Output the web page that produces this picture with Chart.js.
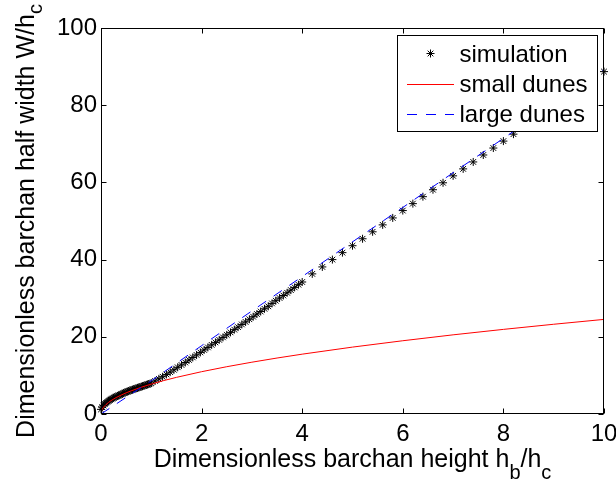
<!DOCTYPE html>
<html><head><meta charset="utf-8">
<script src="https://cdn.jsdelivr.net/npm/chart.js@4.4.1/dist/chart.umd.min.js"></script>
<style>html,body{margin:0;padding:0;background:#fff;overflow:hidden}#wrap{width:616px;height:488px;position:relative}</style>
</head><body><div id="wrap"><canvas id="c" width="616" height="488"></canvas></div>
<script>
const FONT = "'Liberation Sans', Arial, Helvetica, sans-serif";
const xTicks = [0, 2, 4, 6, 8, 10];
const yTicks = [0, 20, 40, 60, 80, 100];
const seriesLabels = ['simulation', 'small dunes', 'large dunes'];

const simH = [
  0, 0.025, 0.05, 0.075, 0.1, 0.125, 0.15, 0.175, 0.2, 0.225, 0.25, 0.275, 0.3, 0.325, 0.35, 0.375, 0.4, 0.425, 0.45, 0.475,
  0.5, 0.525, 0.55, 0.575, 0.6, 0.625, 0.65, 0.675, 0.7, 0.725, 0.75, 0.775, 0.8, 0.825, 0.85, 0.875, 0.9, 0.925, 0.95, 0.975, 1.0,
  1.075, 1.15, 1.225, 1.3, 1.375, 1.45, 1.525, 1.6, 1.675, 1.75, 1.825, 1.9, 1.975, 2.05, 2.125, 2.2, 2.275, 2.35, 2.425, 2.5,
  2.575, 2.65, 2.725, 2.8, 2.875, 2.95, 3.025, 3.1, 3.175, 3.25, 3.325, 3.4, 3.475, 3.55, 3.625, 3.7, 3.775, 3.85, 3.925, 4.0,
  4.2, 4.4, 4.6, 4.8, 5.0, 5.2, 5.4, 5.6, 5.8, 6.0, 6.2, 6.4, 6.6, 6.8, 7.0, 7.2, 7.4, 7.6, 7.8, 8.0,
  8.2, 8.4, 8.6, 8.8, 9.0, 9.2, 9.4, 9.6, 9.8, 10.0
];
const simW = [
  1.2, 1.8, 2.2, 2.6, 2.9, 3.15, 3.4, 3.6, 3.8, 4.0, 4.2, 4.35, 4.5, 4.65, 4.8, 4.95, 5.1, 5.25, 5.4, 5.55,
  5.7, 5.82, 5.94, 6.06, 6.18, 6.3, 6.42, 6.54, 6.65, 6.76, 6.87, 6.98, 7.09, 7.2, 7.31, 7.42, 7.53, 7.64, 7.76, 7.88, 8.0,
  8.55, 9.1, 9.65, 10.25, 10.85, 11.45, 12.1, 12.7, 13.35, 14.0, 14.65, 15.3, 15.95, 16.6, 17.25, 17.9, 18.55, 19.2, 19.85, 20.5,
  21.15, 21.85, 22.5, 23.2, 23.85, 24.55, 25.2, 25.9, 26.55, 27.25, 27.9, 28.65, 29.35, 30.05, 30.7, 31.4, 32.1, 32.8, 33.5, 34.2,
  36.3, 38.1, 40.0, 41.8, 43.6, 45.4, 47.2, 49.0, 50.8, 52.7, 54.5, 56.3, 58.1, 59.9, 61.7, 63.5, 65.3, 67.1, 68.9, 70.7,
  72.5, 74.3, 76.1, 77.9, 79.7, 81.5, 83.3, 85.1, 86.9, 88.7
];

const smallH = [0, 0.01, 0.025, 0.05, 0.1, 0.15, 0.2, 0.3, 0.4, 0.5, 0.6, 0.8, 1.0, 1.25, 1.5, 2, 2.5, 3, 3.5, 4, 5, 6, 7, 8, 9, 10];
const smallW = [0, 0.78, 1.23, 1.73, 2.45, 3.0, 3.47, 4.25, 4.9, 5.48, 6.0, 6.93, 7.75, 8.67, 9.49, 10.96, 12.25, 13.42, 14.5, 15.5, 17.33, 18.98, 20.51, 21.92, 23.25, 24.51];

const largeH = [0, 1, 2, 3, 4, 5, 6, 7, 8, 9, 10];
const largeW = [0, 8.6, 17.7, 26.7, 35.6, 44.6, 53.5, 62.5, 71.4, 80.4, 89.3];

const xTitleParts = [['Dimensionless barchan height h', false], ['b', true], ['/h', false], ['c', true]];
const yTitleParts = [['Dimensionless barchan half width W/h', false], ['c', true]];

const toPts = (xs, ys) => xs.map((x, i) => ({ x: x, y: ys[i] }));

function drawStar(ctx, x, y, r) {
  ctx.beginPath();
  ctx.moveTo(x - r, y); ctx.lineTo(x + r, y);
  ctx.moveTo(x, y - r); ctx.lineTo(x, y + r);
  const d = r * Math.SQRT1_2;
  ctx.moveTo(x - d, y - d); ctx.lineTo(x + d, y + d);
  ctx.moveTo(x - d, y + d); ctx.lineTo(x + d, y - d);
  ctx.stroke();
}

function drawParts(ctx, parts, x0, y0, mainSize, subSize, subDrop) {
  let x = x0;
  parts.forEach(([t, sub]) => {
    ctx.font = (sub ? subSize : mainSize) + 'px ' + FONT;
    ctx.fillText(t, x, y0 + (sub ? subDrop : 0));
    x += ctx.measureText(t).width;
  });
}
function partsWidth(ctx, parts, mainSize, subSize) {
  let w = 0;
  parts.forEach(([t, sub]) => {
    ctx.font = (sub ? subSize : mainSize) + 'px ' + FONT;
    w += ctx.measureText(t).width;
  });
  return w;
}

const framePlugin = {
  id: 'frame',
  afterDraw(chart) {
    const ctx = chart.ctx;
    const a = chart.chartArea;
    const xs = chart.scales.x, ys = chart.scales.y;
    const L = Math.round(a.left) + 0.5, R = Math.round(a.right) - 0.5;
    const T = Math.round(a.top) + 0.5, B = Math.round(a.bottom) - 0.5;
    ctx.save();
    ctx.strokeStyle = '#000';
    ctx.lineWidth = 1;
    ctx.strokeRect(L, T, R - L, B - T);
    const tl = 5;
    ctx.beginPath();
    xTicks.forEach(v => {
      const px = Math.round(xs.getPixelForValue(v)) + 0.5;
      ctx.moveTo(px, B); ctx.lineTo(px, B - tl);
      ctx.moveTo(px, T); ctx.lineTo(px, T + tl);
    });
    yTicks.forEach(v => {
      const py = Math.round(ys.getPixelForValue(v)) + 0.5;
      ctx.moveTo(L, py); ctx.lineTo(L + tl, py);
      ctx.moveTo(R, py); ctx.lineTo(R - tl, py);
    });
    ctx.stroke();

    // legend
    const ds = chart.data.datasets;
    const lw = 200, lh = 96;
    const lx = Math.round(a.right - 7 - lw) + 0.5, ly = Math.round(a.top + 7) + 0.5;
    ctx.fillStyle = '#fff';
    ctx.fillRect(lx, ly, lw, lh);
    ctx.strokeStyle = '#000';
    ctx.strokeRect(lx, ly, lw, lh);
    const rows = [ly + 19, ly + 49, ly + 79];
    ctx.font = '24px ' + FONT;
    ctx.textBaseline = 'middle';
    ctx.textAlign = 'left';
    ds.forEach((d, i) => {
      const cy = rows[i];
      ctx.save();
      ctx.strokeStyle = d.borderColor;
      ctx.lineWidth = 1;
      if (d.showLine === false) {
        drawStar(ctx, lx + 33, cy - 1, 4);
      } else {
        ctx.setLineDash(d.borderDash || []);
        ctx.beginPath();
        ctx.moveTo(lx + 9.5, cy); ctx.lineTo(lx + 56.5, cy);
        ctx.stroke();
      }
      ctx.restore();
      ctx.fillStyle = '#000';
      ctx.fillText(d.label, lx + 62, cy + 1);
    });

    // axis titles
    ctx.fillStyle = '#000';
    ctx.textBaseline = 'alphabetic';
    const mainSize = 25, subSize = 20;
    const xw = partsWidth(ctx, xTitleParts, mainSize, subSize);
    drawParts(ctx, xTitleParts, (a.left + a.right) / 2 - xw / 2, 467, mainSize, subSize, 12);
    const yw = partsWidth(ctx, yTitleParts, mainSize, subSize);
    ctx.translate(34, (a.top + a.bottom) / 2);
    ctx.rotate(-Math.PI / 2);
    drawParts(ctx, yTitleParts, -yw / 2, 0, mainSize, subSize, 8);
    ctx.restore();
  }
};

const tickFont = { family: FONT, size: 24 };

new Chart(document.getElementById('c'), {
  type: 'scatter',
  data: {
    datasets: [
      { label: seriesLabels[0], data: toPts(simH, simW), showLine: false, pointStyle: 'star',
        pointRadius: 4, pointHoverRadius: 4, borderColor: '#000000', backgroundColor: '#000000',
        pointBorderWidth: 1, borderWidth: 1, clip: false, order: 3 },
      { label: seriesLabels[1], data: toPts(smallH, smallW), showLine: true, borderColor: '#ff0000',
        borderWidth: 1, pointRadius: 0, cubicInterpolationMode: 'monotone', fill: false, order: 2 },
      { label: seriesLabels[2], data: toPts(largeH, largeW), showLine: true, borderColor: '#0000ff',
        borderWidth: 1, borderDash: [10, 9], pointRadius: 0, fill: false, order: 1 }
    ]
  },
  options: {
    responsive: false,
    animation: false,
    devicePixelRatio: 1,
    layout: { padding: { top: 28, right: 12, left: 0, bottom: 0 } },
    plugins: { legend: { display: false }, tooltip: { enabled: false } },
    events: [],
    scales: {
      x: {
        type: 'linear', min: 0, max: 10,
        grid: { display: false, drawTicks: false },
        border: { display: false },
        ticks: { font: tickFont, color: '#000', padding: 6, maxRotation: 0, autoSkip: false },
        afterBuildTicks: s => { s.ticks = xTicks.map(v => ({ value: v })); },
        afterFit: s => { s.height = 74; s.paddingLeft = 0; s.paddingRight = 0; }
      },
      y: {
        type: 'linear', min: 0, max: 100,
        grid: { display: false, drawTicks: false },
        border: { display: false },
        ticks: { font: tickFont, color: '#000', padding: 4, autoSkip: false },
        afterBuildTicks: s => { s.ticks = yTicks.map(v => ({ value: v })); },
        afterFit: s => { s.width = 101; }
      }
    }
  },
  plugins: [framePlugin]
});
</script>
</body></html>
